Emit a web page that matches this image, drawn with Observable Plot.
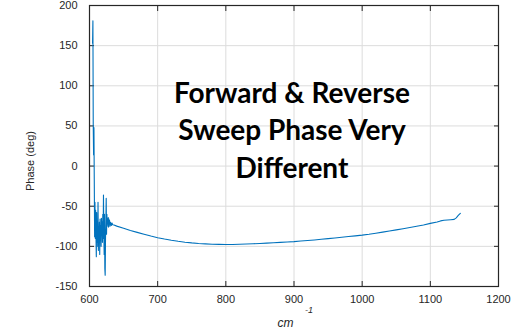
<!DOCTYPE html>
<html>
<head>
<meta charset="utf-8">
<script src="https://cdn.jsdelivr.net/npm/d3@7"></script>
<script src="https://cdn.jsdelivr.net/npm/@observablehq/plot@0.6"></script>
<style>
  body { margin: 0; background: #fff; }
</style>
</head>
<body>
<div id="chart"></div>
<script>
// Phase of the sweep response versus wavenumber (cm^-1)
const wavenumber = [
  604.5, 605, 605.5, 606, 606.5, 607, 607.5, 608, 608.5, 609, 609.5, 610,
  610.5, 611, 611.5, 612, 612.5, 613, 613.5, 614, 614.5, 615, 615.5, 616,
  616.5, 617, 617.5, 618, 618.5, 619, 619.5, 620, 620.5, 621, 621.5, 622,
  622.5, 623, 623.5, 624, 624.5, 625, 625.5, 626, 626.5, 627, 627.5, 628,
  628.5, 629, 629.5, 630, 631, 632, 633, 634, 636,
  640, 650, 660, 670, 680, 690, 700, 710, 720, 730, 740, 750, 760, 770,
  780, 790, 800, 810, 820, 830, 840, 850, 860, 870, 880, 890, 900, 910,
  920, 930, 940, 950, 960, 970, 980, 990, 1000, 1010, 1020, 1030, 1040,
  1050, 1060, 1070, 1080, 1090, 1100, 1110, 1115, 1120, 1130, 1135, 1138,
  1141, 1144
];
const phase = [
  153, 181, 50, 14, 48, -17, -88, -45, -90, -55, -88, -113,
  -58, -95, -70, -100, -45, -105, -80, -90, -70, -110, -66, -92,
  -75, -100, -65, -85, -70, -95, -60, -90, -36, -80, -110, -60,
  -128, -136, -90, -70, -40, -85, -60, -75, -66, -72, -64, -76,
  -66, -72, -68, -75, -70, -74, -71, -73, -73.5,
  -74.8, -77.5, -80.2, -82.6, -85.0, -87.2, -89.2, -90.9, -92.4, -93.7, -94.8, -95.7, -96.4, -96.9,
  -97.3, -97.5, -97.6, -97.6, -97.4, -97.1, -96.8, -96.4, -96.0, -95.5, -95.0, -94.6, -94.1, -93.4,
  -92.7, -92.0, -91.2, -90.4, -89.6, -88.7, -87.8, -86.9, -86.0, -84.9, -83.6, -82.3, -80.9,
  -79.5, -78.1, -76.6, -75.0, -73.3, -71.4, -69.7, -68.3, -67.5, -66.8, -66.4, -64.5,
  -61.5, -59
];
const xTicks = [600, 700, 800, 900, 1000, 1100, 1200];
const yTicks = [-150, -100, -50, 0, 50, 100, 150, 200];
const noteText = "Forward & Reverse\nSweep Phase Very\nDifferent";
const noteAt = {x: 897, y: 47};

const rows = wavenumber.map((w, i) => ({w, p: phase[i]}));
const axisColor = "#262626";
const tickLabel = d => String(d);

const chart = Plot.plot({
  width: 518,
  height: 331,
  marginLeft: 89,
  marginRight: 20,
  marginTop: 5,
  marginBottom: 45,
  style: {fontFamily: "'Liberation Sans', Arial, sans-serif", fontSize: "11px", color: axisColor, background: "#fff"},
  x: {domain: [600, 1200]},
  y: {domain: [-150, 200]},
  marks: [
    Plot.gridX(xTicks, {stroke: "#dcdcdc", strokeOpacity: 1}),
    Plot.gridY(yTicks, {stroke: "#dcdcdc", strokeOpacity: 1}),
    Plot.axisX(xTicks, {anchor: "bottom", tickSize: -5, tickPadding: 14, tickFormat: tickLabel, label: null, stroke: axisColor, fill: axisColor}),
    Plot.axisX(xTicks, {anchor: "top", tickSize: -5, tickFormat: () => "", label: null, stroke: axisColor}),
    Plot.axisY(yTicks, {anchor: "left", tickSize: -5, tickPadding: 17, tickFormat: tickLabel, label: null, stroke: axisColor, fill: axisColor}),
    Plot.axisY(yTicks, {anchor: "right", tickSize: -5, tickFormat: () => "", label: null, stroke: axisColor}),
    Plot.frame({stroke: axisColor, strokeWidth: 1.2}),
    Plot.line(rows, {x: "w", y: "p", stroke: "#0072BD", strokeWidth: 1.1}),
    Plot.text([noteText], {
      x: noteAt.x, y: noteAt.y, text: d => d,
      fontFamily: "Lato, 'Open Sans', sans-serif", fontWeight: "bold", fontSize: 28,
      lineHeight: 1.34, lineAnchor: "middle", fill: "#000"
    }),
    Plot.text(["Phase (deg)"], {frameAnchor: "left", textAnchor: "middle", text: d => d, rotate: -90, dx: -59, dy: 15, fontSize: 11, fill: axisColor}),
    Plot.text(["cm"], {frameAnchor: "bottom", text: d => d, dx: -8.5, dy: 40, fontSize: 12, fontStyle: "italic", fill: axisColor}),
    Plot.text(["-1"], {frameAnchor: "bottom", text: d => d, dx: 15, dy: 26.5, fontSize: 9, fontStyle: "italic", fill: axisColor})
  ]
});
document.getElementById("chart").appendChild(chart);
</script>
</body>
</html>
